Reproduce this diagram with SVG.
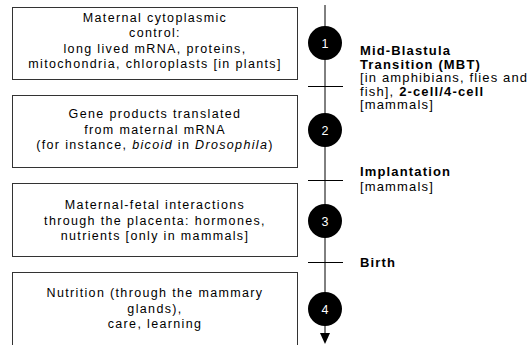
<svg xmlns="http://www.w3.org/2000/svg" width="530" height="345" viewBox="0 0 530 345">
<style>
.box{fill:#fff;stroke:#333;stroke-width:1}
.t{font-family:"Liberation Sans",Arial,sans-serif;font-size:12.5px;fill:#000;letter-spacing:1.35px}
.c{text-anchor:middle}
.r{font-size:13px;letter-spacing:1.15px}
.b{font-weight:bold}
.num{font-family:"Liberation Sans",Arial,sans-serif;font-size:12.5px;fill:#fff;text-anchor:middle}
.dot{fill:#000}
.ln{stroke:#000;stroke-width:1;fill:none}
</style>
<rect width="530" height="345" fill="#fff"/>
<g id="box1">
<rect class="box" x="12.5" y="7.5" width="285" height="72"/>
<text class="t c" x="155" y="21.5">Maternal cytoplasmic</text>
<text class="t c" x="155" y="37">control:</text>
<text class="t c" x="155" y="52.5">long lived mRNA, proteins,</text>
<text class="t c" x="155" y="68">mitochondria, chloroplasts [in plants]</text>
</g>
<g id="box2">
<rect class="box" x="12.5" y="95.5" width="285" height="72"/>
<text class="t c" x="155" y="118">Gene products translated</text>
<text class="t c" x="155" y="133.5">from maternal mRNA</text>
<text class="t c" x="155" y="149">(for instance, <tspan font-style="italic">bicoid</tspan> in <tspan font-style="italic">Drosophila</tspan>)</text>
</g>
<g id="box3">
<rect class="box" x="12.5" y="183.5" width="285" height="73"/>
<text class="t c" x="155" y="209">Maternal-fetal interactions</text>
<text class="t c" x="155" y="224.5">through the placenta: hormones,</text>
<text class="t c" x="155" y="240">nutrients [only in mammals]</text>
</g>
<g id="box4">
<rect class="box" x="12.5" y="272.5" width="285" height="80"/>
<text class="t c" x="155" y="297">Nutrition (through the mammary</text>
<text class="t c" x="155" y="312.5">glands),</text>
<text class="t c" x="155" y="328">care, learning</text>
</g>
<g id="connectors">
<line class="ln" x1="325" y1="5" x2="325" y2="334"/>
<polygon points="320,333 330,333 325,344" fill="#000"/>
<line class="ln" x1="308" y1="86.5" x2="343" y2="86.5"/>
<line class="ln" x1="308" y1="180.5" x2="343" y2="180.5"/>
<line class="ln" x1="308" y1="262.5" x2="343" y2="262.5"/>
</g>
<g id="stage1">
<circle class="dot" cx="325" cy="43" r="17"/>
<text class="num" x="325" y="47.5">1</text>
</g>
<g id="stage2">
<circle class="dot" cx="325" cy="130" r="17"/>
<text class="num" x="325" y="134.5">2</text>
</g>
<g id="stage3">
<circle class="dot" cx="325" cy="221" r="17"/>
<text class="num" x="325" y="225.5">3</text>
</g>
<g id="stage4">
<circle class="dot" cx="325" cy="309" r="17"/>
<text class="num" x="325" y="313.5">4</text>
</g>
<g id="label-mbt">
<text class="t r b" x="360" y="55">Mid-Blastula</text>
<text class="t r b" x="360" y="68.5">Transition (MBT)</text>
<text class="t r" x="360" y="82">[in amphibians, flies and</text>
<text class="t r" x="360" y="95.5">fish], <tspan font-weight="bold">2-cell/4-cell</tspan></text>
<text class="t r" x="360" y="109">[mammals]</text>
</g>
<g id="label-implantation">
<text class="t r b" x="360" y="176">Implantation</text>
<text class="t r" x="360" y="191">[mammals]</text>
</g>
<g id="label-birth">
<text class="t r b" x="360" y="267">Birth</text>
</g>
</svg>
